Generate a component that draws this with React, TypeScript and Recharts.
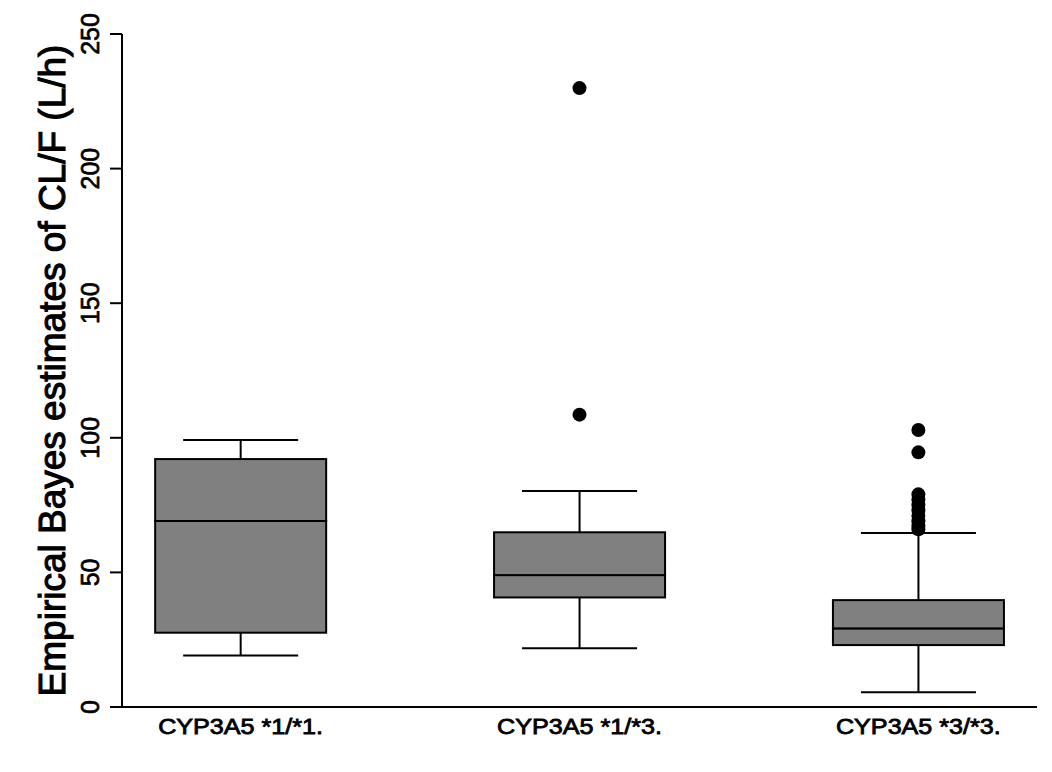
import { ComposedChart, Bar, Scatter, XAxis, YAxis } from 'recharts'

// genotype groups, placed at x = 1, 2, 3
const categories = ['CYP3A5 *1/*1.', 'CYP3A5 *1/*3.', 'CYP3A5 *3/*3.']
const positions = [1, 2, 3]

// box plot summaries (L/h)
const whiskerLow = [19.1, 21.8, 5.5]
const q1 = [27.6, 40.7, 23.0]
const median = [69.1, 49.0, 29.2]
const q3 = [92.1, 64.9, 39.7]
const whiskerHigh = [99.2, 80.2, 64.6]

// outliers per group
const outliers1: number[] = []
const outliers2 = [108.6, 229.9]
const outliers3 = [102.9, 94.6, 79.0, 77.0, 75.0, 73.0, 71.0, 69.0, 67.2, 66.0]

const yTicks = [0, 50, 100, 150, 200, 250]

const FILL = '#808080'
const FONT = '"Liberation Sans", Arial, sans-serif'

const boxData = positions.map((pos, i) => ({
  pos,
  base: whiskerLow[i],
  lowW: q1[i] - whiskerLow[i],
  lowBox: median[i] - q1[i],
  highBox: q3[i] - median[i],
  highW: whiskerHigh[i] - q3[i],
}))

const outlierData = [outliers1, outliers2, outliers3].flatMap((list, i) =>
  list.map((value) => ({ pos: positions[i], value })),
)

const CAP_RATIO = 115 / 171

function LowWhisker(props: any) {
  const { x, y, width, height } = props
  const cx = x + width / 2
  const cap = width * CAP_RATIO
  return (
    <g stroke="#000" strokeWidth={2}>
      <line x1={cx} y1={y} x2={cx} y2={y + height} />
      <line x1={cx - cap / 2} y1={y + height} x2={cx + cap / 2} y2={y + height} />
    </g>
  )
}

function HighWhisker(props: any) {
  const { x, y, width, height } = props
  const cx = x + width / 2
  const cap = width * CAP_RATIO
  return (
    <g stroke="#000" strokeWidth={2}>
      <line x1={cx} y1={y} x2={cx} y2={y + height} />
      <line x1={cx - cap / 2} y1={y} x2={cx + cap / 2} y2={y} />
    </g>
  )
}

function BoxPart(props: any) {
  const { x, y, width, height } = props
  return <rect x={x} y={y} width={width} height={height} fill={FILL} stroke="#000" strokeWidth={2} />
}

// the original text is heavier than plain Arial, so a thin stroke thickens it
function YTick(props: any) {
  const { x, y, payload } = props
  return (
    <text
      x={x - 11} y={y} transform={`rotate(-90, ${x - 11}, ${y})`}
      textAnchor="middle" fontFamily={FONT} fontSize={25} fill="#000"
      stroke="#000" strokeWidth={0.7}
    >
      {payload.value}
    </text>
  )
}

function XTick(props: any) {
  const { x, y, payload } = props
  const label = categories[positions.indexOf(payload.value)]
  return (
    <g transform={`translate(${x}, ${y + 27}) scale(1.17, 1)`}>
      <text
        x={0} y={0} textAnchor="middle" fontFamily={FONT} fontSize={21.5} fill="#000"
        stroke="#000" strokeWidth={0.8}
      >
        {label}
      </text>
    </g>
  )
}

function YTitle(props: any) {
  const vb = props.viewBox || { x: 0, y: 26, width: 114, height: 673 }
  const tx = vb.x + 57
  const ty = vb.y + vb.height / 2
  return (
    <text
      x={tx} y={ty} transform={`rotate(-90, ${tx}, ${ty})`}
      textAnchor="middle" fontFamily={FONT} fontSize={37} fill="#000"
      stroke="#000" strokeWidth={1.1}
    >
      Empirical Bayes estimates of CL/F (L/h)
    </text>
  )
}

export default function App() {
  return (
    <div style={{ margin: '-1px 0 0 -1px', borderTop: '1px solid #e4ecec', borderLeft: '1px solid #e4ecec', width: 1045, height: 765 }}>
      <ComposedChart
        width={1044} height={764} data={boxData}
        margin={{ top: 26, right: 15, bottom: 25, left: 0 }}
      >
        <XAxis
          dataKey="pos" type="number" domain={[0.65, 3.35]} ticks={positions}
          allowDataOverflow
          tickLine={false} tickSize={0} tickMargin={0} height={40}
          axisLine={{ stroke: '#000', strokeWidth: 2 }}
          tick={<XTick />}
        />
        <YAxis
          domain={[0, 250]} ticks={yTicks} width={114}
          tickSize={12} tickMargin={0}
          axisLine={{ stroke: '#000', strokeWidth: 2 }}
          tickLine={{ stroke: '#000', strokeWidth: 2 }}
          tick={<YTick />}
          label={<YTitle />}
        />
        <Bar dataKey="base" stackId="box" barSize={171} shape={() => <g />} isAnimationActive={false} />
        <Bar dataKey="lowW" stackId="box" barSize={171} shape={<LowWhisker />} isAnimationActive={false} />
        <Bar dataKey="lowBox" stackId="box" barSize={171} shape={<BoxPart />} isAnimationActive={false} />
        <Bar dataKey="highBox" stackId="box" barSize={171} shape={<BoxPart />} isAnimationActive={false} />
        <Bar dataKey="highW" stackId="box" barSize={171} shape={<HighWhisker />} isAnimationActive={false} />
        <Scatter
          data={outlierData} dataKey="value" isAnimationActive={false}
          shape={(p: any) => <circle cx={p.cx} cy={p.cy} r={7} fill="#000" />}
        />
      </ComposedChart>
    </div>
  )
}
